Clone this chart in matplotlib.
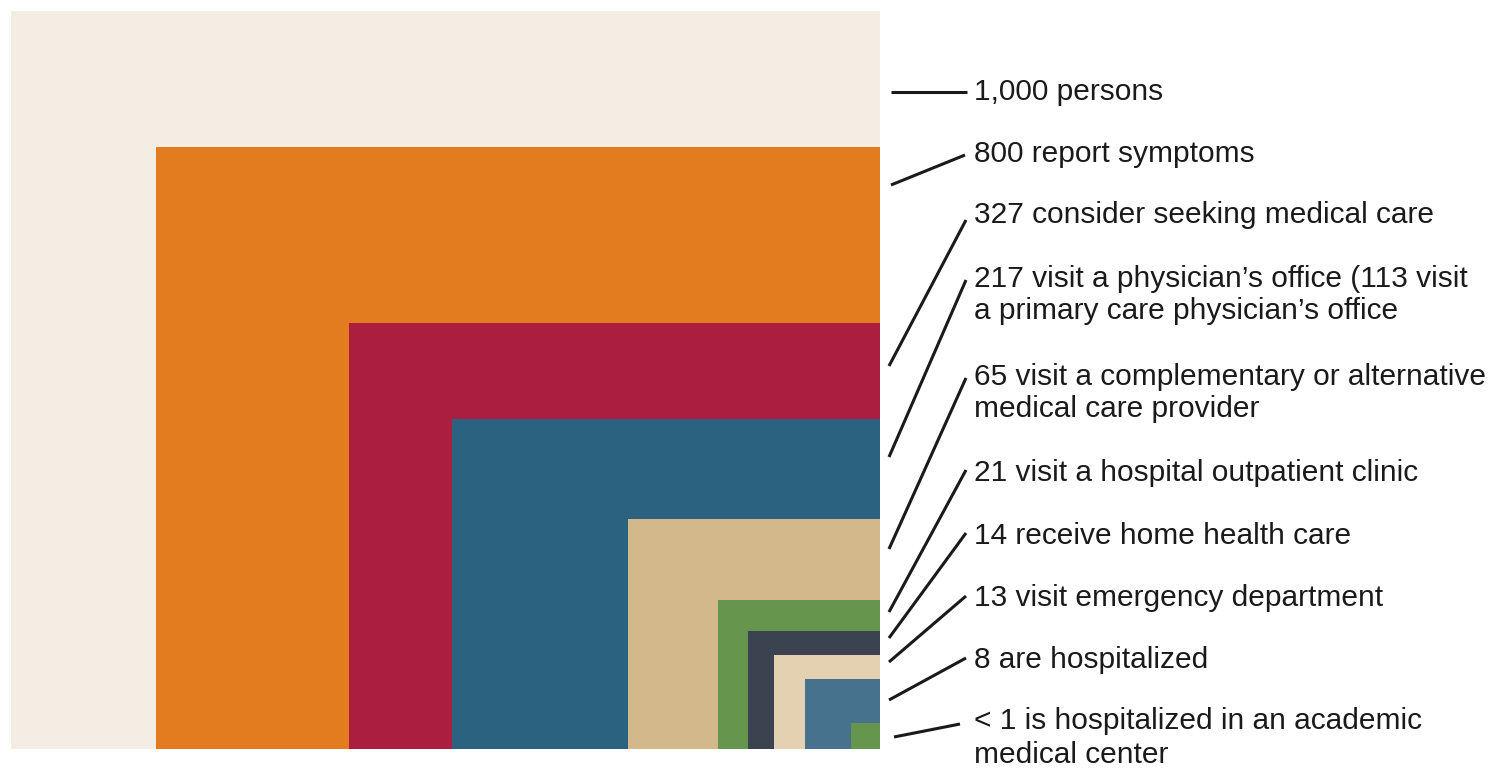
import matplotlib
matplotlib.use("Agg")
import matplotlib.pyplot as plt
from matplotlib.patches import Rectangle

# ---- data ----
counts = ["1,000", "800", "327", "217", "65", "21", "14", "13", "8", "< 1"]
labels = [
    "1,000 persons",
    "800 report symptoms",
    "327 consider seeking medical care",
    "217 visit a physician\u2019s office (113 visit\na primary care physician\u2019s office",
    "65 visit a complementary or alternative\nmedical care provider",
    "21 visit a hospital outpatient clinic",
    "14 receive home health care",
    "13 visit emergency department",
    "8 are hospitalized",
    "< 1 is hospitalized in an academic\nmedical center",
]
colors = ["#F4EDE3", "#E27C1E", "#AB1E3F", "#2B6280", "#D3B88C",
          "#66964D", "#3C4350", "#E4D1B2", "#46728D", "#66964D"]

# ---- layout (pixel units; rectangles anchored at bottom-right corner) ----
right, bottom = 880, 749
rect_left = [11, 156, 349, 452, 628, 718, 748, 774, 805, 851]
rect_top = [11, 147, 323, 419, 519, 600, 631, 655, 679, 723]
leader_start = [(891, 92), (891, 185), (889, 366), (889, 457), (889, 549),
                (889, 612), (889, 638), (889, 662), (889, 700), (894, 737)]
leader_end = [(967, 92), (965, 155), (966, 220), (966, 280), (966, 378),
              (966, 470), (966, 533), (966, 596), (966, 658), (960, 724)]
text_y = [92, 154, 215, 295, 393, 473, 536, 598, 660, 738]
line_sp = [1.15, 1.15, 1.15, 1.15, 1.15, 1.15, 1.15, 1.15, 1.15, 1.3]

W, H = 1493, 771
fig = plt.figure(figsize=(W / 100, H / 100), dpi=100)
ax = fig.add_axes([0, 0, 1, 1])
ax.set_xlim(0, W)
ax.set_ylim(H, 0)
ax.axis("off")

for l, t, c in zip(rect_left, rect_top, colors):
    ax.add_patch(Rectangle((l, t), right - l, bottom - t, facecolor=c,
                           edgecolor="none"))

for (x0, y0), (x1, y1), lab, ty, ls in zip(leader_start, leader_end, labels,
                                          text_y, line_sp):
    ax.plot([x0, x1], [y0, y1], color="#1a1a1a", lw=2.2, solid_capstyle="butt")
    ax.text(974, ty, lab, ha="left", va="center", fontsize=21.5,
            family=["Liberation Sans", "DejaVu Sans"],
            color="#1a1a1a", linespacing=ls)

fig.savefig("out.png", dpi=100)
